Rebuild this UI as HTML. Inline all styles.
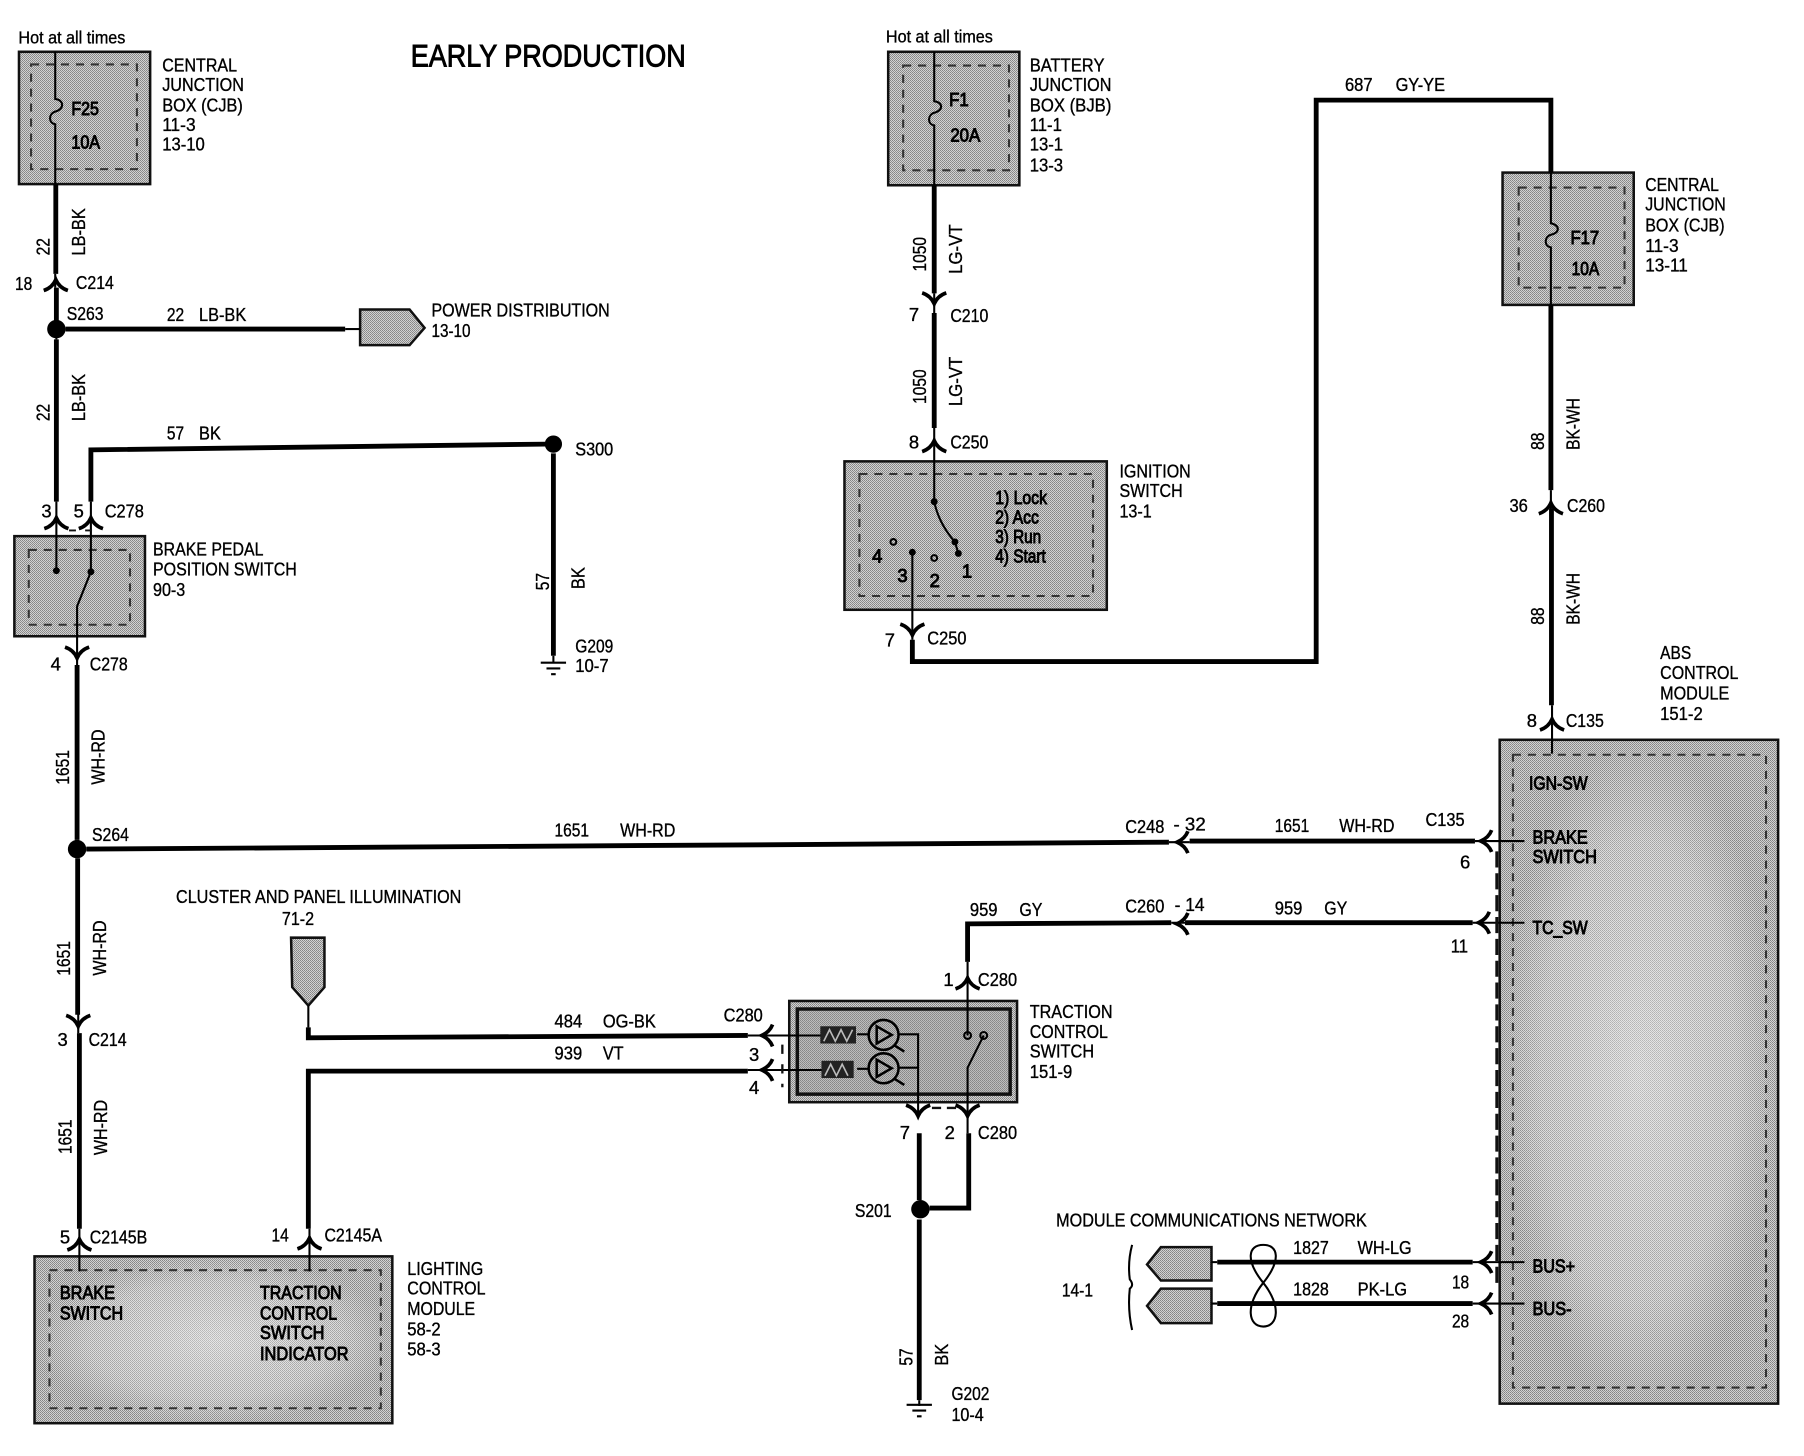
<!DOCTYPE html>
<html><head><meta charset="utf-8"><title>Early Production wiring diagram</title>
<style>
html,body{margin:0;padding:0;background:#fff;width:1804px;height:1456px;overflow:hidden}
svg{display:block}
text{font-family:"Liberation Sans",sans-serif;font-size:16px;fill:#000;stroke:#000;stroke-width:.3px}
.b{stroke-width:.8px}
.n{font-size:15px}
.w{fill:none;stroke:#000;stroke-width:4.2}
.t{fill:none;stroke:#000;stroke-width:1.8}
.d{fill:none;stroke:#333;stroke-width:1.8;stroke-dasharray:7 6}
.x{fill:url(#dith);stroke:#111;stroke-width:2.2}
.a{fill:none;stroke:#000;stroke-width:3.2}
</style></head><body>
<svg xmlns="http://www.w3.org/2000/svg" width="1804" height="1456" viewBox="0 0 1568 1265.5">
<defs>
<pattern id="dith" width="2" height="2" patternUnits="userSpaceOnUse" patternTransform="scale(.8692)">
<rect width="2" height="2" fill="#e4e4e4"/><rect width="1" height="1" fill="#747474"/><rect x="1" y="1" width="1" height="1" fill="#7c7c7c"/>
</pattern>
<radialGradient id="glow" cx=".5" cy=".5" r=".5"><stop offset="0" stop-color="#fff" stop-opacity=".45"/><stop offset=".7" stop-color="#fff" stop-opacity=".25"/><stop offset="1" stop-color="#fff" stop-opacity="0"/></radialGradient>
<path id="up" class="a" d="M-10.5 7.5Q-3 5 0 -2Q3 5 10.5 7.5"/>
<path id="dn" class="a" d="M-10.5 -7.5Q-3 -5 0 2Q3 -5 10.5 -7.5"/>
<path id="lf" class="a" d="M7.5 -9.5Q5 -3 -2 0Q5 3 7.5 9.5"/>
</defs>
<rect width="1568" height="1266" fill="#fff"/>

<!-- boxes -->
<rect class="x" x="16.5" y="45" width="114" height="115"/>
<rect class="d" x="27" y="56" width="92" height="91"/>
<rect class="x" x="772" y="45" width="114" height="116"/>
<rect class="d" x="785" y="57" width="92" height="91"/>
<rect class="x" x="1306" y="150" width="114" height="115"/>
<rect class="d" x="1320" y="163" width="92" height="87"/>
<rect class="x" x="12.5" y="466" width="113.5" height="87"/>
<rect class="d" x="25" y="478" width="88" height="65"/>
<rect class="x" x="734" y="401" width="228" height="129"/>
<rect class="d" x="747" y="412" width="203" height="106"/>
<rect class="x" x="30" y="1092" width="311" height="145"/>
<rect x="30" y="1092" width="311" height="145" fill="url(#glow)"/>
<rect class="d" x="43" y="1104" width="288" height="120"/>
<rect class="x" x="686" y="870" width="198" height="88"/>
<rect x="693" y="877" width="185" height="74" fill="#8e8e8e" fill-opacity=".3" stroke="#111" stroke-width="3"/>
<rect class="x" x="1303.5" y="643" width="242" height="577"/>
<rect x="1303.5" y="643" width="242" height="577" fill="url(#glow)"/>
<rect class="d" x="1315" y="656" width="220" height="550"/>
<path class="x" d="M313 269H356L369 285L356 300H313Z"/>
<path class="x" d="M253 815H282V858L268 874L254 858Z"/>
<path class="x" d="M1053 1084V1113H1009L997 1099L1009 1084Z"/>
<path class="x" d="M1053 1120V1150H1009L997 1135L1009 1120Z"/>

<!-- thick wires -->
<g class="w">
<path class="w" d="M48.5 160V238"/><path class="w" d="M49 250V280"/>
<path class="w" d="M49 295V436"/>
<path class="w" d="M57 286H300"/>
<path class="w" d="M79 436V391L474 386"/>
<path class="w" d="M481 394V570"/>
<path class="w" d="M67 578V730"/>
<path class="w" d="M75 738L1016 732"/><path class="w" d="M1034 731H1282"/>
<path class="w" d="M67.5 746V882"/><path class="w" d="M69 898V1068"/>
<path class="w" d="M268 1068V931H650"/>
<path class="w" d="M268 893V902L650 900"/>
<path class="w" d="M841 836V803L1018 802"/><path class="w" d="M1030 802H1280"/>
<path class="w" d="M799 985V1043"/><path class="w" d="M842 985V1050H808"/>
<path class="w" d="M799 1060V1217"/>
<path class="w" d="M812 161V255"/><path class="w" d="M812 272V372"/>
<path class="w" d="M793 556V575H1144V87H1348V150"/>
<path class="w" d="M1348 265V426"/><path class="w" d="M1348.5 442V613"/>
<path class="w" d="M1058 1097H1280"/><path class="w" d="M1058 1133H1280"/>
</g>

<!-- thin wires and fuses -->
<g>
<path class="t" d="M48 45V86C56 87 56 95 48 97C42 99 42 107 48 108V160"/>
<path class="t" d="M812 45V88C820 89 820 96 812 98C806 100 806 108 812 109V161"/>
<path class="t" d="M1348 265V215C1342 214 1342 206 1348 204C1356 202 1356 196 1348 194V150"/>
<path class="t" d="M48 238V250M49 280V295"/>
<path class="t" d="M49 436V496M79 436V497L67 527V578"/>
<path class="t" d="M300 286H313"/>
<path class="t" d="M481 570V576"/>
<path class="t" d="M68 880V898M69 1068V1105M269 1068V1105"/>
<path class="t" d="M268 874V893"/>
<path class="t" d="M650 900H715M650 930H716M745 899H755M745 929H755"/>
<path class="t" d="M781 899H798V968M781 928H798"/>
<path class="t" d="M841 836V900M855 900L841 928V985"/>
<path class="t" d="M799 1217V1222"/>
<path class="t" d="M812 255V272M812 372V436Q816 455 830 471L833 481"/>
<path class="t" d="M793 480V556"/>
<path class="t" d="M1348 426V442M1349 613V655"/>
<path class="t" d="M1282 731H1325M1280 802H1325M1280 1097H1325M1280 1133H1325"/>
<path class="t" d="M1053 1097H1058M1053 1133H1058"/>
<path class="t" d="M1016 732H1034M1018 802H1030"/>
<path class="t" stroke-width="2" d="M1098 1115C1082 1095 1085 1082 1098 1082C1111 1082 1114 1095 1098 1115C1082 1135 1085 1153 1098 1153C1111 1153 1114 1135 1098 1115Z"/>
<path class="t" d="M984 1082Q980 1097 982 1112Q986 1117 982 1120Q980 1138 984 1156"/>
</g>
<g stroke="#000" stroke-width="1.8">
<path d="M470 576H492M475 581H487M479 586H483"/>
<path d="M788 1221H810M793 1226H805M797 1231H801"/>
</g>

<!-- dashed extras -->
<path d="M1301 740V1115" fill="none" stroke="#111" stroke-width="2.6" stroke-dasharray="14 5"/>
<path d="M810 963H831" fill="none" stroke="#111" stroke-width="2" stroke-dasharray="8 5"/>
<path d="M680 908V945" fill="none" stroke="#111" stroke-width="2" stroke-dasharray="8 9"/>
<path d="M60 461H66M74 461H80" fill="none" stroke="#111" stroke-width="1.6"/>

<!-- arrows -->
<use href="#up" x="48.5" y="245"/>
<use href="#up" x="49" y="452"/><use href="#up" x="79" y="452"/>
<use href="#dn" x="67" y="570"/>
<use href="#dn" x="68" y="890"/>
<use href="#up" x="69" y="1079"/><use href="#up" x="269" y="1078"/>
<use href="#dn" x="812" y="262"/><use href="#up" x="812" y="385"/>
<use href="#dn" x="793" y="550"/>
<use href="#up" x="1348" y="439"/><use href="#up" x="1349" y="627"/>
<use href="#up" x="841" y="852"/>
<use href="#dn" x="798" y="968"/><use href="#dn" x="841" y="968"/>
<use href="#lf" x="1025" y="732"/><use href="#lf" x="1289" y="731"/>
<use href="#lf" x="1025" y="803"/><use href="#lf" x="1287" y="802"/>
<use href="#lf" x="664" y="900"/><use href="#lf" x="664" y="930"/>
<use href="#lf" x="1289" y="1097"/><use href="#lf" x="1289" y="1133"/>

<!-- dots -->
<g fill="#000">
<circle cx="49" cy="286" r="8"/><circle cx="481" cy="386" r="7.5"/>
<circle cx="67" cy="738" r="8"/><circle cx="800" cy="1051" r="8"/>
<circle cx="49" cy="496" r="3"/><circle cx="79" cy="497" r="3"/>
<circle cx="812" cy="436" r="3"/><circle cx="830" cy="471" r="3"/><circle cx="833" cy="481" r="3"/>
<circle cx="793" cy="480" r="3"/>
</g>
<g fill="none" stroke="#000" stroke-width="1.8">
<circle cx="776.5" cy="471" r="2.5"/><circle cx="812" cy="485" r="2.5"/>
<circle cx="841" cy="900" r="3"/><circle cx="855" cy="900" r="3"/>
</g>

<!-- traction switch internals -->
<rect x="713" y="892" width="31" height="15" fill="#222"/>
<rect x="714" y="922" width="28" height="15" fill="#222"/>
<path d="M716 905L721 895L726 905L731 895L736 905L741 895M717 935L722 925L727 935L732 925L737 935" fill="none" stroke="#bbb" stroke-width="1.4"/>
<g fill="none" stroke="#000" stroke-width="2.2">
<circle cx="768" cy="899.5" r="13"/><circle cx="768" cy="928.5" r="13"/>
<path d="M762 892V907L775 899.5Z M762 921V936L775 928.5Z"/>
<path d="M778 909L786 914M778 938L786 943"/>
</g>

<!-- labels -->
<text x="357" y="58" style="font-size:27px" class="b" textLength="239" lengthAdjust="spacingAndGlyphs">EARLY PRODUCTION</text>

<text x="16" y="38" class="n" textLength="93" lengthAdjust="spacingAndGlyphs">Hot at all times</text>
<text x="770" y="37" class="n" textLength="93" lengthAdjust="spacingAndGlyphs">Hot at all times</text>

<text x="141" y="62" textLength="65" lengthAdjust="spacingAndGlyphs">CENTRAL</text>
<text x="141" y="79" textLength="71" lengthAdjust="spacingAndGlyphs">JUNCTION</text>
<text x="141" y="97" textLength="70" lengthAdjust="spacingAndGlyphs">BOX (CJB)</text>
<text x="141" y="114" textLength="29" lengthAdjust="spacingAndGlyphs">11-3</text>
<text x="141" y="131" textLength="37" lengthAdjust="spacingAndGlyphs">13-10</text>
<text x="62" y="100" class="b" textLength="24" lengthAdjust="spacingAndGlyphs">F25</text>
<text x="62" y="129" class="b" textLength="25" lengthAdjust="spacingAndGlyphs">10A</text>

<text x="895" y="62" textLength="65" lengthAdjust="spacingAndGlyphs">BATTERY</text>
<text x="895" y="79" textLength="71" lengthAdjust="spacingAndGlyphs">JUNCTION</text>
<text x="895" y="97" textLength="71" lengthAdjust="spacingAndGlyphs">BOX (BJB)</text>
<text x="895" y="114" textLength="28" lengthAdjust="spacingAndGlyphs">11-1</text>
<text x="895" y="131" textLength="29" lengthAdjust="spacingAndGlyphs">13-1</text>
<text x="895" y="149" textLength="29" lengthAdjust="spacingAndGlyphs">13-3</text>
<text x="825" y="92" class="b" textLength="17" lengthAdjust="spacingAndGlyphs">F1</text>
<text x="826" y="123" class="b" textLength="26" lengthAdjust="spacingAndGlyphs">20A</text>

<text x="1430" y="166" textLength="64" lengthAdjust="spacingAndGlyphs">CENTRAL</text>
<text x="1430" y="183" textLength="70" lengthAdjust="spacingAndGlyphs">JUNCTION</text>
<text x="1430" y="201" textLength="69" lengthAdjust="spacingAndGlyphs">BOX (CJB)</text>
<text x="1430" y="219" textLength="29" lengthAdjust="spacingAndGlyphs">11-3</text>
<text x="1430" y="236" textLength="37" lengthAdjust="spacingAndGlyphs">13-11</text>
<text x="1365" y="212" class="b" textLength="25" lengthAdjust="spacingAndGlyphs">F17</text>
<text x="1366" y="239" class="b" textLength="24" lengthAdjust="spacingAndGlyphs">10A</text>

<text transform="rotate(-90 43 222)" x="43" y="222" textLength="15" lengthAdjust="spacingAndGlyphs">22</text>
<text transform="rotate(-90 74 222)" x="74" y="222" textLength="41" lengthAdjust="spacingAndGlyphs">LB-BK</text>
<text x="13" y="252" textLength="15" lengthAdjust="spacingAndGlyphs">18</text>
<text x="66" y="251" textLength="33" lengthAdjust="spacingAndGlyphs">C214</text>
<text x="58" y="278" textLength="32" lengthAdjust="spacingAndGlyphs">S263</text>
<text x="145" y="279" textLength="15" lengthAdjust="spacingAndGlyphs">22</text>
<text x="173" y="279" textLength="41" lengthAdjust="spacingAndGlyphs">LB-BK</text>
<text x="375" y="275" textLength="155" lengthAdjust="spacingAndGlyphs">POWER DISTRIBUTION</text>
<text x="375" y="293" textLength="34" lengthAdjust="spacingAndGlyphs">13-10</text>
<text transform="rotate(-90 43 366)" x="43" y="366" textLength="15" lengthAdjust="spacingAndGlyphs">22</text>
<text transform="rotate(-90 74 366)" x="74" y="366" textLength="41" lengthAdjust="spacingAndGlyphs">LB-BK</text>
<text x="145" y="382" textLength="15" lengthAdjust="spacingAndGlyphs">57</text>
<text x="173" y="382" textLength="19" lengthAdjust="spacingAndGlyphs">BK</text>
<text x="500" y="396" textLength="33" lengthAdjust="spacingAndGlyphs">S300</text>
<text transform="rotate(-90 477 513)" x="477" y="513" textLength="15" lengthAdjust="spacingAndGlyphs">57</text>
<text transform="rotate(-90 508 512)" x="508" y="512" textLength="19" lengthAdjust="spacingAndGlyphs">BK</text>
<text x="500" y="567" textLength="33" lengthAdjust="spacingAndGlyphs">G209</text>
<text x="500" y="584" textLength="29" lengthAdjust="spacingAndGlyphs">10-7</text>

<text x="36" y="450">3</text><text x="64" y="450">5</text>
<text x="91" y="450" textLength="34" lengthAdjust="spacingAndGlyphs">C278</text>
<text x="133" y="483" textLength="96" lengthAdjust="spacingAndGlyphs">BRAKE PEDAL</text>
<text x="133" y="500" textLength="125" lengthAdjust="spacingAndGlyphs">POSITION SWITCH</text>
<text x="133" y="518" textLength="28" lengthAdjust="spacingAndGlyphs">90-3</text>
<text x="44" y="583">4</text>
<text x="78" y="583" textLength="33" lengthAdjust="spacingAndGlyphs">C278</text>

<text transform="rotate(-90 60 682)" x="60" y="682" textLength="30" lengthAdjust="spacingAndGlyphs">1651</text>
<text transform="rotate(-90 91 682)" x="91" y="682" textLength="48" lengthAdjust="spacingAndGlyphs">WH-RD</text>
<text x="80" y="731" textLength="32" lengthAdjust="spacingAndGlyphs">S264</text>
<text x="482" y="727" textLength="30" lengthAdjust="spacingAndGlyphs">1651</text>
<text x="539" y="727" textLength="48" lengthAdjust="spacingAndGlyphs">WH-RD</text>
<text transform="rotate(-90 61 848)" x="61" y="848" textLength="30" lengthAdjust="spacingAndGlyphs">1651</text>
<text transform="rotate(-90 92 848)" x="92" y="848" textLength="48" lengthAdjust="spacingAndGlyphs">WH-RD</text>
<text x="50" y="909">3</text>
<text x="77" y="909" textLength="33" lengthAdjust="spacingAndGlyphs">C214</text>
<text transform="rotate(-90 62 1003)" x="62" y="1003" textLength="30" lengthAdjust="spacingAndGlyphs">1651</text>
<text transform="rotate(-90 93 1004)" x="93" y="1004" textLength="48" lengthAdjust="spacingAndGlyphs">WH-RD</text>
<text x="52" y="1081">5</text>
<text x="78" y="1081" textLength="50" lengthAdjust="spacingAndGlyphs">C2145B</text>
<text x="236" y="1079" textLength="15" lengthAdjust="spacingAndGlyphs">14</text>
<text x="282" y="1079" textLength="50" lengthAdjust="spacingAndGlyphs">C2145A</text>

<text x="52" y="1129" class="b" textLength="48" lengthAdjust="spacingAndGlyphs">BRAKE</text>
<text x="52" y="1147" class="b" textLength="55" lengthAdjust="spacingAndGlyphs">SWITCH</text>
<text x="226" y="1129" class="b" textLength="71" lengthAdjust="spacingAndGlyphs">TRACTION</text>
<text x="226" y="1147" class="b" textLength="67" lengthAdjust="spacingAndGlyphs">CONTROL</text>
<text x="226" y="1164" class="b" textLength="56" lengthAdjust="spacingAndGlyphs">SWITCH</text>
<text x="226" y="1182" class="b" textLength="77" lengthAdjust="spacingAndGlyphs">INDICATOR</text>
<text x="354" y="1108" textLength="66" lengthAdjust="spacingAndGlyphs">LIGHTING</text>
<text x="354" y="1125" textLength="68" lengthAdjust="spacingAndGlyphs">CONTROL</text>
<text x="354" y="1143" textLength="59" lengthAdjust="spacingAndGlyphs">MODULE</text>
<text x="354" y="1161" textLength="29" lengthAdjust="spacingAndGlyphs">58-2</text>
<text x="354" y="1178" textLength="29" lengthAdjust="spacingAndGlyphs">58-3</text>

<text x="153" y="785" textLength="248" lengthAdjust="spacingAndGlyphs">CLUSTER AND PANEL ILLUMINATION</text>
<text x="245" y="804" textLength="28" lengthAdjust="spacingAndGlyphs">71-2</text>
<text x="482" y="893" textLength="24" lengthAdjust="spacingAndGlyphs">484</text>
<text x="524" y="893" textLength="46" lengthAdjust="spacingAndGlyphs">OG-BK</text>
<text x="482" y="921" textLength="24" lengthAdjust="spacingAndGlyphs">939</text>
<text x="524" y="921" textLength="18" lengthAdjust="spacingAndGlyphs">VT</text>
<text x="629" y="888" textLength="34" lengthAdjust="spacingAndGlyphs">C280</text>
<text x="651" y="922">3</text><text x="651" y="951">4</text>

<text x="820" y="857">1</text>
<text x="850" y="857" textLength="34" lengthAdjust="spacingAndGlyphs">C280</text>
<text x="843" y="796" textLength="24" lengthAdjust="spacingAndGlyphs">959</text>
<text x="886" y="796" textLength="20" lengthAdjust="spacingAndGlyphs">GY</text>
<text x="978" y="793" textLength="34" lengthAdjust="spacingAndGlyphs">C260</text>
<text x="1021" y="792" textLength="26" lengthAdjust="spacingAndGlyphs">- 14</text>
<text x="1108" y="795" textLength="24" lengthAdjust="spacingAndGlyphs">959</text>
<text x="1151" y="795" textLength="20" lengthAdjust="spacingAndGlyphs">GY</text>
<text x="978" y="724" textLength="34" lengthAdjust="spacingAndGlyphs">C248</text>
<text x="1020" y="722" textLength="28" lengthAdjust="spacingAndGlyphs">- 32</text>
<text x="1108" y="723" textLength="30" lengthAdjust="spacingAndGlyphs">1651</text>
<text x="1164" y="723" textLength="48" lengthAdjust="spacingAndGlyphs">WH-RD</text>
<text x="1239" y="718" textLength="34" lengthAdjust="spacingAndGlyphs">C135</text>
<text x="1269" y="755">6</text>
<text x="1261" y="828" textLength="15" lengthAdjust="spacingAndGlyphs">11</text>

<text x="895" y="885" textLength="72" lengthAdjust="spacingAndGlyphs">TRACTION</text>
<text x="895" y="902" textLength="68" lengthAdjust="spacingAndGlyphs">CONTROL</text>
<text x="895" y="919" textLength="56" lengthAdjust="spacingAndGlyphs">SWITCH</text>
<text x="895" y="937" textLength="37" lengthAdjust="spacingAndGlyphs">151-9</text>

<text x="782" y="990">7</text><text x="821" y="990">2</text>
<text x="850" y="990" textLength="34" lengthAdjust="spacingAndGlyphs">C280</text>
<text x="743" y="1058" textLength="32" lengthAdjust="spacingAndGlyphs">S201</text>
<text transform="rotate(-90 793 1187)" x="793" y="1187" textLength="15" lengthAdjust="spacingAndGlyphs">57</text>
<text transform="rotate(-90 824 1187)" x="824" y="1187" textLength="19" lengthAdjust="spacingAndGlyphs">BK</text>
<text x="827" y="1217" textLength="33" lengthAdjust="spacingAndGlyphs">G202</text>
<text x="827" y="1235" textLength="28" lengthAdjust="spacingAndGlyphs">10-4</text>

<text transform="rotate(-90 805 236)" x="805" y="236" textLength="30" lengthAdjust="spacingAndGlyphs">1050</text>
<text transform="rotate(-90 836 238)" x="836" y="238" textLength="43" lengthAdjust="spacingAndGlyphs">LG-VT</text>
<text x="790" y="279">7</text>
<text x="826" y="280" textLength="33" lengthAdjust="spacingAndGlyphs">C210</text>
<text transform="rotate(-90 805 351)" x="805" y="351" textLength="30" lengthAdjust="spacingAndGlyphs">1050</text>
<text transform="rotate(-90 836 353)" x="836" y="353" textLength="43" lengthAdjust="spacingAndGlyphs">LG-VT</text>
<text x="790" y="390">8</text>
<text x="826" y="390" textLength="33" lengthAdjust="spacingAndGlyphs">C250</text>

<text x="973" y="415" textLength="62" lengthAdjust="spacingAndGlyphs">IGNITION</text>
<text x="973" y="432" textLength="55" lengthAdjust="spacingAndGlyphs">SWITCH</text>
<text x="973" y="450" textLength="28" lengthAdjust="spacingAndGlyphs">13-1</text>
<text x="865" y="438" class="b" textLength="45" lengthAdjust="spacingAndGlyphs">1) Lock</text>
<text x="865" y="455" class="b" textLength="38" lengthAdjust="spacingAndGlyphs">2) Acc</text>
<text x="865" y="472" class="b" textLength="40" lengthAdjust="spacingAndGlyphs">3) Run</text>
<text x="865" y="489" class="b" textLength="44" lengthAdjust="spacingAndGlyphs">4) Start</text>
<text x="758" y="489" class="b">4</text>
<text x="780" y="506" class="b">3</text>
<text x="808" y="510" class="b">2</text>
<text x="836" y="502" class="b">1</text>
<text x="769" y="562">7</text>
<text x="806" y="560" textLength="34" lengthAdjust="spacingAndGlyphs">C250</text>
<text x="1169" y="79" textLength="24" lengthAdjust="spacingAndGlyphs">687</text>
<text x="1213" y="79" textLength="43" lengthAdjust="spacingAndGlyphs">GY-YE</text>

<text transform="rotate(-90 1342 391)" x="1342" y="391" textLength="15" lengthAdjust="spacingAndGlyphs">88</text>
<text transform="rotate(-90 1373 391)" x="1373" y="391" textLength="45" lengthAdjust="spacingAndGlyphs">BK-WH</text>
<text x="1312" y="445" textLength="16" lengthAdjust="spacingAndGlyphs">36</text>
<text x="1362" y="445" textLength="33" lengthAdjust="spacingAndGlyphs">C260</text>
<text transform="rotate(-90 1342 543)" x="1342" y="543" textLength="15" lengthAdjust="spacingAndGlyphs">88</text>
<text transform="rotate(-90 1373 543)" x="1373" y="543" textLength="45" lengthAdjust="spacingAndGlyphs">BK-WH</text>
<text x="1327" y="632">8</text>
<text x="1361" y="632" textLength="33" lengthAdjust="spacingAndGlyphs">C135</text>
<text x="1443" y="573" textLength="27" lengthAdjust="spacingAndGlyphs">ABS</text>
<text x="1443" y="590" textLength="68" lengthAdjust="spacingAndGlyphs">CONTROL</text>
<text x="1443" y="608" textLength="60" lengthAdjust="spacingAndGlyphs">MODULE</text>
<text x="1443" y="626" textLength="37" lengthAdjust="spacingAndGlyphs">151-2</text>
<text x="1329" y="686" class="b" textLength="51" lengthAdjust="spacingAndGlyphs">IGN-SW</text>
<text x="1332" y="733" class="b" textLength="48" lengthAdjust="spacingAndGlyphs">BRAKE</text>
<text x="1332" y="750" class="b" textLength="56" lengthAdjust="spacingAndGlyphs">SWITCH</text>
<text x="1332" y="812" class="b" textLength="48" lengthAdjust="spacingAndGlyphs">TC_SW</text>
<text x="1332" y="1106" class="b" textLength="37" lengthAdjust="spacingAndGlyphs">BUS+</text>
<text x="1332" y="1143" class="b" textLength="34" lengthAdjust="spacingAndGlyphs">BUS-</text>

<text x="918" y="1066" textLength="270" lengthAdjust="spacingAndGlyphs">MODULE COMMUNICATIONS NETWORK</text>
<text x="1124" y="1090" textLength="31" lengthAdjust="spacingAndGlyphs">1827</text>
<text x="1180" y="1090" textLength="47" lengthAdjust="spacingAndGlyphs">WH-LG</text>
<text x="1124" y="1126" textLength="31" lengthAdjust="spacingAndGlyphs">1828</text>
<text x="1180" y="1126" textLength="43" lengthAdjust="spacingAndGlyphs">PK-LG</text>
<text x="1262" y="1120" textLength="15" lengthAdjust="spacingAndGlyphs">18</text>
<text x="1262" y="1154" textLength="15" lengthAdjust="spacingAndGlyphs">28</text>
<text x="923" y="1127" textLength="27" lengthAdjust="spacingAndGlyphs">14-1</text>
</svg>
</body></html>
